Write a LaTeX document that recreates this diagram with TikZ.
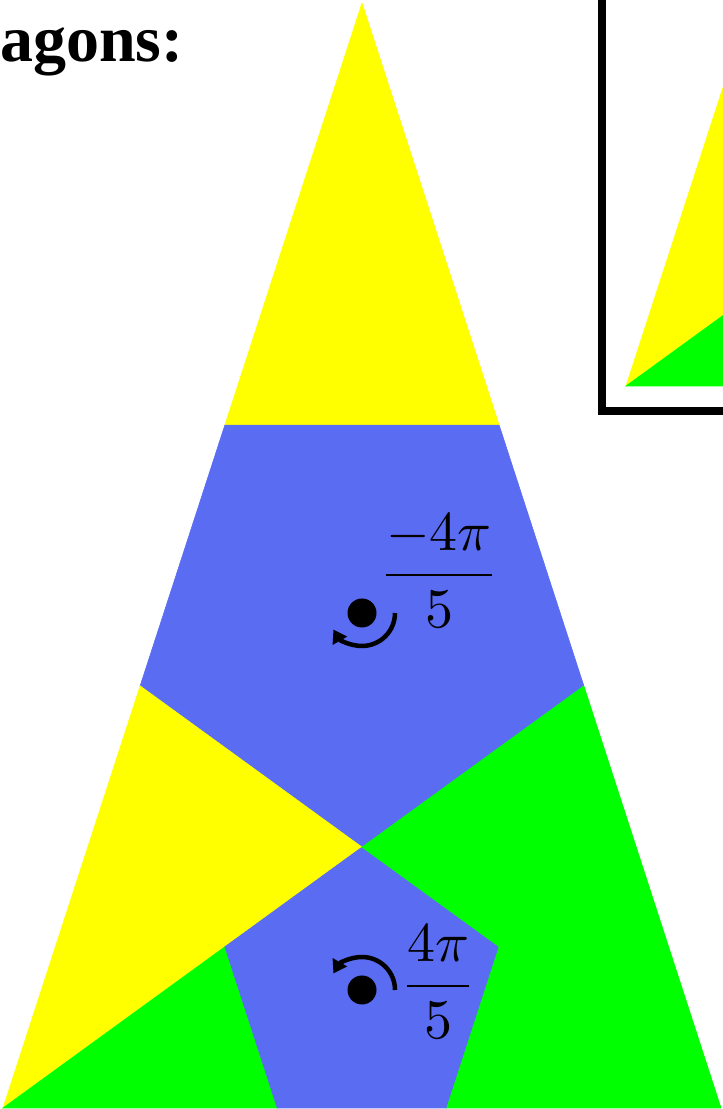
\documentclass[tikz,border=0pt]{standalone}
\usepackage{fontspec}
\usepackage{amsmath}
\newfontfamily\titlefont{Liberation Serif}
\usetikzlibrary{
    arrows.meta,                      % puntas de flecha
    calc                              % puntos sobre segmentos ($(a)!t!(b)$)
}
\definecolor{piece_yellow}{RGB}{255,255,0}
\definecolor{piece_green}{RGB}{0,255,0}
\definecolor{piece_blue}{RGB}{90,108,242}
\tikzset{
    yellowpiece/.style={
        fill=piece_yellow, draw=piece_yellow, line width=0.6pt
    },
    greenpiece/.style={
        fill=piece_green, draw=piece_green, line width=0.6pt
    },
    bluepiece/.style={
        fill=piece_blue, draw=piece_blue, line width=0.6pt
    },
    pivot/.style={
        circle, fill=black, inner sep=0pt, minimum size=29pt
    },
    turn/.style={
        line width=4.5pt, -{Triangle[length=13pt,width=16pt]}
    },
    anglelabel/.style={
        scale=5.6, inner sep=0pt
    },
    frame/.style={
        draw=black, line width=8pt
    }
}

\begin{document}
\begin{tikzpicture}[x=1pt, y=1pt]
    \clip (0,0) rectangle (723,1109);

    % --- Triangulo aureo y sus cortes ---
    \coordinate (apex) at (362,1106);
    \coordinate (bl)   at (3,1);
    \coordinate (br)   at (721,1);
    \coordinate (l1)   at ($(apex)!0.381966!(bl)$);
    \coordinate (l2)   at ($(apex)!0.618034!(bl)$);
    \coordinate (r1)   at ($(apex)!0.381966!(br)$);
    \coordinate (r2)   at ($(apex)!0.618034!(br)$);
    \coordinate (mid)  at ($(bl)!0.618034!(r2)$);
    \coordinate (ul)   at ($(bl)!0.381966!(r2)$);
    \coordinate (ur)   at ($(br)!0.381966!(l2)$);
    \coordinate (bl2)  at ($(bl)!0.381966!(br)$);
    \coordinate (br2)  at ($(br)!0.381966!(bl)$);

    % --- Piezas ---
    \filldraw[yellowpiece] (apex) -- (l1) -- (r1) -- cycle;
    \filldraw[bluepiece] (l1) -- (r1) -- (r2) -- (mid) -- (l2) -- cycle;
    \filldraw[yellowpiece] (l2) -- (mid) -- (bl) -- cycle;
    \filldraw[greenpiece] (bl) -- (ul) -- (bl2) -- cycle;
    \filldraw[bluepiece] (mid) -- (ur) -- (br2) -- (bl2) -- (ul) -- cycle;
    \filldraw[greenpiece] (r2) -- (br) -- (br2) -- (ur) -- (mid) -- cycle;

    % --- Giros ---
    \node[pivot] (top_pivot) at (362,496) {};
    \draw[turn] ($(top_pivot)+(33,0)$) arc[start angle=0, end angle=-150, radius=33];
    \node[anglelabel] (top_angle) at (439,538) {$\dfrac{-4\pi}{5}$};

    \node[pivot] (low_pivot) at (362,119) {};
    \draw[turn] ($(low_pivot)+(33,0)$) arc[start angle=0, end angle=150, radius=33];
    \node[anglelabel] (low_angle) at (438,127) {$\dfrac{4\pi}{5}$};

    % --- Recuadro ---
    \coordinate (inset_corner) at (626,723);
    \filldraw[yellowpiece] (inset_corner) -- ++(72:355) -- ($(inset_corner)+(36:355)$) -- cycle;
    \filldraw[greenpiece] (inset_corner) -- ++(36:220) -- ($(inset_corner)+(220,0)$) -- cycle;
    \draw[frame] (602,1140) |- (760,698);

    % --- Titulo ---
    \node[anchor=base west, inner sep=0pt, font=\titlefont\bfseries\fontsize{66}{72}\selectfont]
        (title) at (0,1047) {agons:};

\end{tikzpicture}
\end{document}
